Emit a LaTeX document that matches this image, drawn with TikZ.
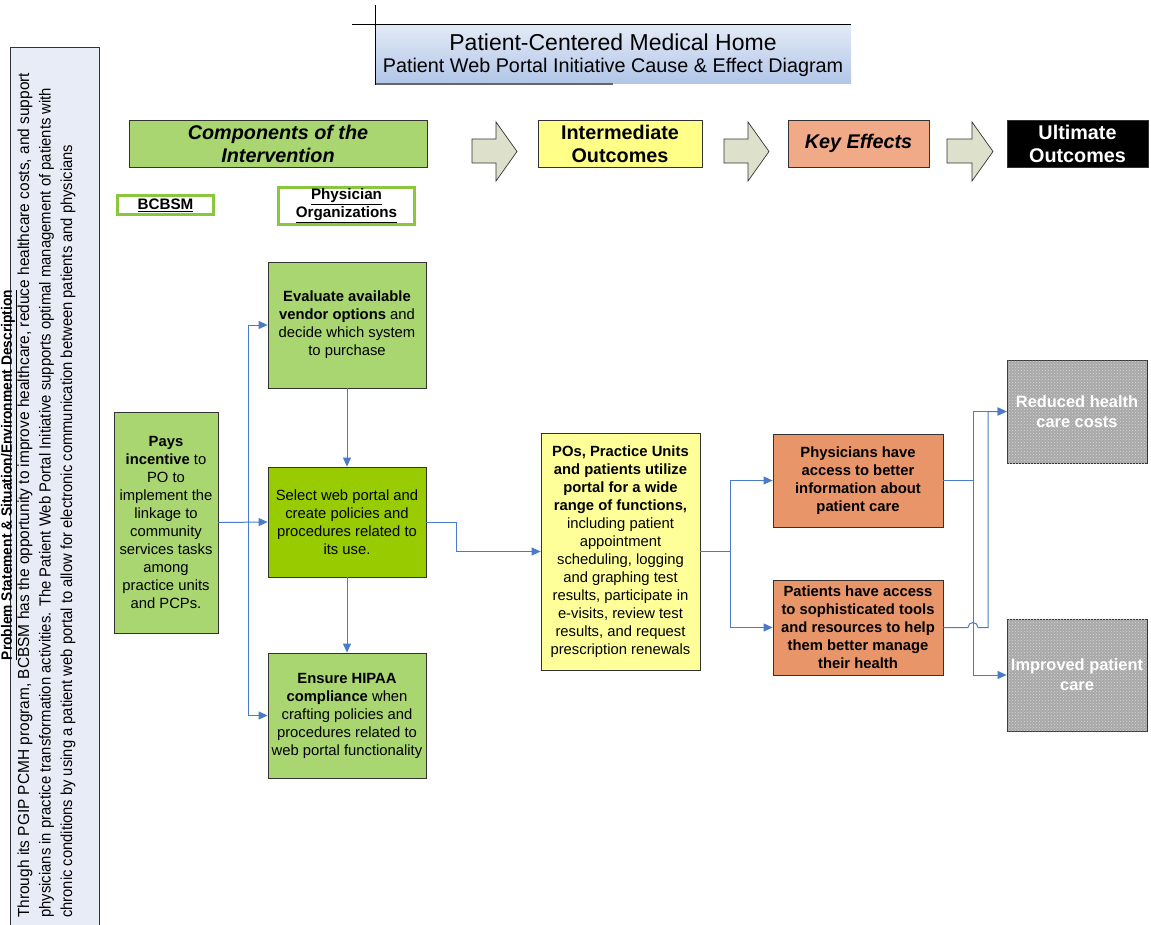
\documentclass[tikz,border=0pt]{standalone}
\usepackage{fontspec}
\setmainfont{Liberation Sans}
\usepackage{graphicx}
\usetikzlibrary{arrows.meta,patterns}
\definecolor{lgreen}{HTML}{A9D671}
\definecolor{bgreen}{HTML}{99CC00}
\definecolor{obox}{HTML}{E9956A}
\definecolor{ohead}{HTML}{F0AA88}
\definecolor{ybox}{HTML}{FFFF99}
\definecolor{yhead}{HTML}{FFFF88}
\definecolor{arrowfill}{HTML}{DDE0CB}
\definecolor{boxline}{HTML}{333333}
\definecolor{connblue}{HTML}{4A7BC8}
\definecolor{panel}{HTML}{E8ECF7}
\definecolor{gbox}{HTML}{A8A8A8}
\definecolor{gdots}{HTML}{D8D8D8}
\definecolor{framegreen}{HTML}{8CC63F}
\definecolor{ttop}{HTML}{E2EAF6}
\definecolor{tbot}{HTML}{B2C6E8}
\begin{document}
\begin{tikzpicture}[x=1pt,y=-1pt,
  box/.style={draw=boxline, line width=0.8pt, align=center, inner sep=0pt,
    font=\fontsize{14.8}{18}\selectfont},
  head/.style={draw=boxline, line width=0.8pt, align=center, inner sep=0pt,
    minimum height=47pt, font=\fontsize{19.8}{23}\selectfont\bfseries},
  frame/.style={draw=framegreen, line width=3pt, fill=white, align=center, inner sep=0pt,
    font=\fontsize{15.2}{18}\selectfont\bfseries},
  graybox/.style={draw=boxline, line width=0.8pt, fill=gbox, align=center, inner sep=0pt,
    text=white, font=\fontsize{16.4}{20}\selectfont\bfseries,
    postaction={pattern=crosshatch dots, pattern color=gdots}},
  blockarrow/.style={draw=boxline, line width=0.7pt, fill=arrowfill},
  conn/.style={draw=connblue, line width=1pt, -{Triangle[length=9pt,width=8pt]}},
  plain/.style={draw=connblue, line width=1pt}
]
\useasboundingbox (0,0) rectangle (1151,924);

% left panel
\draw[draw=boxline, line width=0.8pt, fill=panel] (10,47) rectangle (99,930);
\node[rotate=90, inner sep=0pt] (ptitle) at (9,475)
  {\resizebox{370pt}{\height}{\fontsize{15}{16}\selectfont\bfseries\underline{Problem Statement \& Situation/Environment Description}}};
\node[rotate=90, anchor=west, inner sep=0pt] (pl1) at (25,918)
  {\resizebox{845pt}{\height}{\fontsize{16}{18}\selectfont Through its PGIP PCMH program, BCBSM has the opportunity to improve healthcare, reduce healthcare costs, and support}};
\node[rotate=90, anchor=west, inner sep=0pt] (pl2) at (46.5,918)
  {\resizebox{830pt}{\height}{\fontsize{16}{18}\selectfont physicians in practice transformation activities. The Patient Web Portal Initiative supports optimal management of patients with}};
\node[rotate=90, anchor=west, inner sep=0pt] (pl3) at (68,918)
  {\resizebox{773pt}{\height}{\fontsize{16}{18}\selectfont chronic conditions by using a patient web portal to allow for electronic communication between patients and physicians}};

% title
\shade[top color=ttop, bottom color=tbot] (375,25) rectangle (851,83);
\draw[line width=2.2pt, draw=black!60] (376,84) -- (613,84);
\draw[line width=0.8pt] (352,24) -- (851,24);
\draw[line width=0.8pt] (375,5) -- (375,85);
\node[font=\fontsize{23}{26}\selectfont, inner sep=0pt] (t1) at (613,42) {Patient-Centered Medical Home};
\node[font=\fontsize{19.8}{22}\selectfont, inner sep=0pt] (t2) at (613,67) {Patient Web Portal Initiative Cause \& Effect Diagram};

% header row
\node[head, fill=lgreen, minimum width=298pt, font=\fontsize{19.8}{23}\selectfont\bfseries\itshape] (comp) at (278,143.5) {Components of the\\Intervention};
\node[head, fill=yhead, minimum width=164pt] (inter) at (620,143.5) {Intermediate\\Outcomes};
\node[head, fill=ohead, minimum width=141pt, font=\fontsize{19.8}{23}\selectfont\bfseries\itshape] (keyeff) at (858.5,143.5) {Key Effects};
\node[head, fill=black, text=white, minimum width=141pt] (ult) at (1077.5,143.5) {Ultimate\\Outcomes};

\draw[blockarrow] (472,139) -- (496,139) -- (496,122) -- (517,151.5) -- (496,181) -- (496,163) -- (472,163) -- cycle;
\draw[blockarrow] (724,139) -- (748,139) -- (748,122) -- (769,151.5) -- (748,181) -- (748,163) -- (724,163) -- cycle;
\draw[blockarrow] (947,139) -- (972,139) -- (972,122) -- (993,151.5) -- (972,181) -- (972,163) -- (947,163) -- cycle;

\node[frame, minimum width=96pt, minimum height=19pt] (bcbsm) at (165.5,205) {\underline{BCBSM}};
\node[frame, minimum width=136pt, minimum height=37pt] (porg) at (346.5,206) {\underline{Physician}\\\underline{Organizations}};

% green column
\node[box, fill=lgreen, minimum width=158pt, minimum height=126pt] (eval) at (347,325)
  {\textbf{Evaluate available}\\\textbf{vendor options} and\\decide which system\\to purchase};
\node[box, fill=lgreen, minimum width=104pt, minimum height=221pt] (pays) at (166,522.5)
  {\textbf{Pays}\\\textbf{incentive} to\\PO to\\implement the\\linkage to\\community\\services tasks\\among\\practice units\\and PCPs.};
\node[box, fill=bgreen, minimum width=158pt, minimum height=110pt] (select) at (347,522)
  {Select web portal and\\create policies and\\procedures related to\\its use.};
\node[box, fill=lgreen, minimum width=158pt, minimum height=125pt] (hipaa) at (347,715.5)
  {\textbf{Ensure HIPAA}\\\textbf{compliance} when\\crafting policies and\\procedures related to\\web portal functionality};

\node[box, fill=ybox, minimum width=159pt, minimum height=237pt] (pos) at (620.5,551.5)
  {\textbf{POs, Practice Units}\\\textbf{and patients utilize}\\\textbf{portal for a wide}\\\textbf{range of functions,}\\including patient\\appointment\\scheduling, logging\\and graphing test\\results, participate in\\e-visits, review test\\results, and request\\prescription renewals};

\node[box, fill=obox, minimum width=170pt, minimum height=93pt, font=\fontsize{14.8}{18}\selectfont\bfseries] (phys) at (858,480.5)
  {Physicians have\\access to better\\information about\\patient care};
\node[box, fill=obox, minimum width=170pt, minimum height=95pt, font=\fontsize{14.8}{18}\selectfont\bfseries] (pats) at (858,627.5)
  {Patients have access\\to sophisticated tools\\and resources to help\\them better manage\\their health};

\node[graybox, minimum width=140pt, minimum height=103pt] (reduced) at (1077,411.5) {Reduced health\\care costs};
\node[graybox, minimum width=140pt, minimum height=112pt] (improved) at (1077,675) {Improved patient\\care};

% connectors
\coordinate (j1) at (248,522.5);
\draw[conn] (pays.east) -- (select.west);
\draw[conn] (j1) |- (eval.west);
\draw[conn] (j1) |- (hipaa.west);
\draw[conn] (eval.south) -- (select.north);
\draw[conn] (select.south) -- (hipaa.north);
\coordinate (j2) at (456,522);
\draw[conn] (select.east) -- (j2) |- (pos.west);
\coordinate (j3) at (730,551.5);
\draw[plain] (pos.east) -- (j3);
\draw[conn] (j3) |- (phys.west);
\draw[conn] (j3) |- (pats.west);
\coordinate (j4) at (973,480.5);
\draw[plain] (phys.east) -- (j4);
\draw[conn] (j4) |- (reduced.west);
\draw[conn] (j4) |- (improved.west);
\draw[conn] (pats.east) -- (968,627.5) arc[start angle=180, end angle=360, radius=5] -- (988,627.5) |- (reduced.west);
\end{tikzpicture}
\end{document}
